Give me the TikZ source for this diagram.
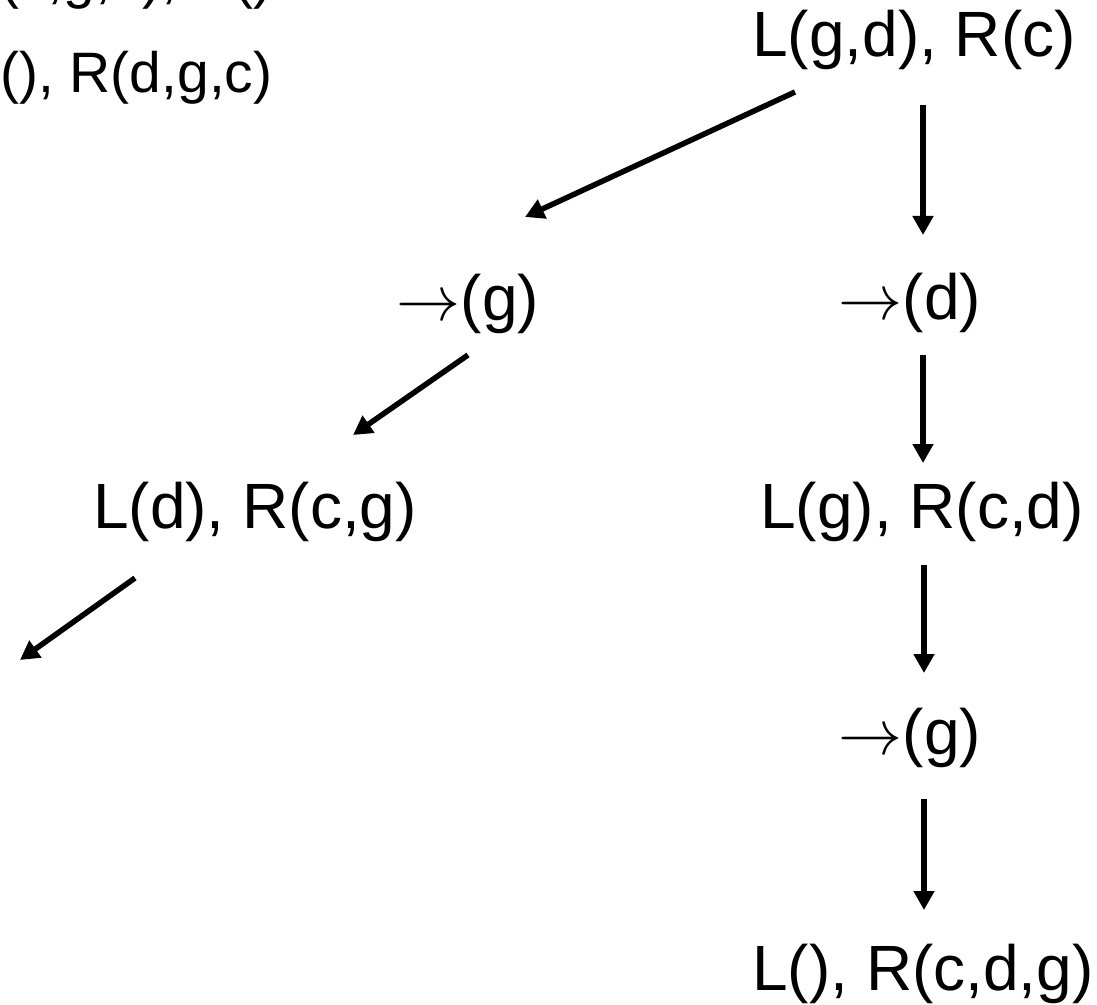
\documentclass[tikz,border=0pt]{standalone}
\usepackage{graphicx}
\usepackage{fontspec}
\setmainfont{Liberation Sans}
\usetikzlibrary{arrows.meta}

% thin math arrow at the size of the labels
\newcommand{\pushto}{\scalebox{3.2}{\fontsize{10pt}{12pt}\selectfont$\rightarrow$}}

\begin{document}
\begin{tikzpicture}[x=0.5pt, y=-0.5pt,
    state/.style={anchor=base, inner sep=0pt, font=\fontsize{32pt}{38pt}\selectfont},
    prev/.style={anchor=base west, inner sep=0pt, font=\fontsize{28.5pt}{34pt}\selectfont},
    arr/.style={line width=2.75pt, -{Triangle[length=9.5pt, width=10pt]}}]
    \clip (0,0) rectangle (1097,1005);

    % earlier state, cut at the page edge
    \node [prev] (prevA) at (-32,-2) {L(c,g,d), R()};
    \node [prev] (prevB) at (-32,93) {L(), R(d,g,c)};

    % right branch
    \node [state] (rgd) at (914,57) {L(g,d), R(c)};
    \node [state] (popd) at (910,320) {\pushto(d)};
    \node [state] (lgcd) at (922,528) {L(g), R(c,d)};
    \node [state] (popg) at (910,754) {\pushto(g)};
    \node [state] (final) at (923,990) {L(), R(c,d,g)};

    % left branch
    \node [state] (lpopg) at (468,321) {\pushto(g)};
    \node [state] (ldcg) at (255,528) {L(d), R(c,g)};
    \coordinate (lnext) at (20,660);

    \draw [arr] ([shift={(9,48)}]rgd.base) -- ([shift={(13,-85)}]popd.base);
    \draw [arr] ([shift={(13,35)}]popd.base) -- ([shift={(1,-65)}]lgcd.base);
    \draw [arr] ([shift={(2,37)}]lgcd.base) -- ([shift={(14,-81)}]popg.base);
    \draw [arr] ([shift={(14,45)}]popg.base) -- ([shift={(1,-80)}]final.base);

    \draw [arr] ([shift={(-119,35)}]rgd.base) -- ([shift={(57,-104)}]lpopg.base);
    \draw [arr] ([shift={(0,34)}]lpopg.base) -- ([shift={(98,-93)}]ldcg.base);
    \draw [arr] ([shift={(-120,50)}]ldcg.base) -- (lnext);
\end{tikzpicture}
\end{document}
